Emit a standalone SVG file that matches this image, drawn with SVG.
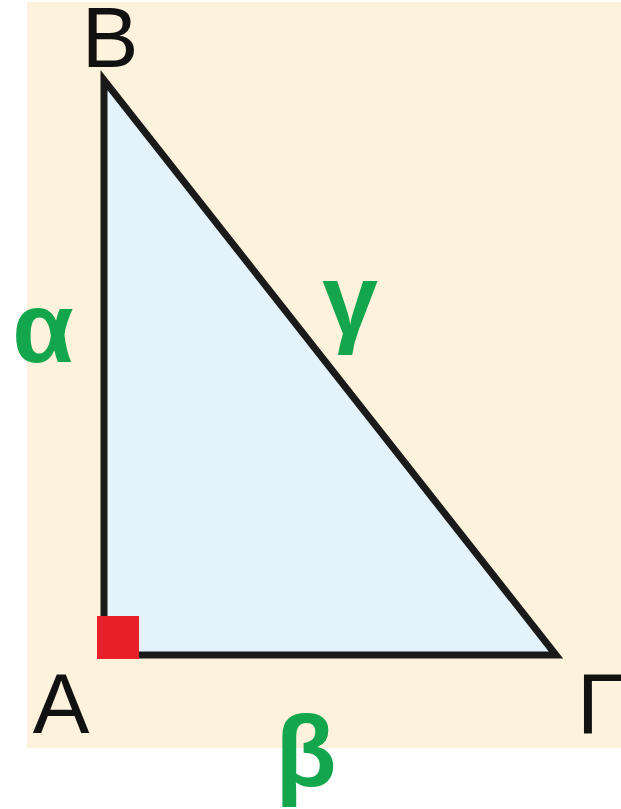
<svg xmlns="http://www.w3.org/2000/svg" width="621" height="809" viewBox="0 0 621 809">
<style>
.vx{font-family:"Liberation Sans",Arial,sans-serif;font-size:85px;fill:#111;}
.sd{font-family:"Liberation Sans",Arial,sans-serif;font-size:100px;font-weight:bold;fill:#14a64c;text-anchor:middle;}
</style>
<rect width="621" height="809" fill="#ffffff"/>
<rect x="27" y="2" width="594" height="746" fill="#fdf3dc"/>
<g id="triangle">
<polygon points="104,80 104,655 556,655" fill="#e4f3fb" stroke="#1a1a1a" stroke-width="7" stroke-linejoin="miter"/>
</g>
<g id="right-angle">
<rect x="97" y="616" width="42" height="43" fill="#e8202a"/>
</g>
<g id="vertex-B"><text class="vx" x="110" y="67" text-anchor="middle">B</text></g>
<g id="vertex-A"><text class="vx" x="61" y="733" text-anchor="middle">A</text></g>
<g id="vertex-G"><text class="vx" x="577" y="733">Γ</text></g>
<g id="side-a"><text class="sd" x="43" y="362">α</text></g>
<g id="side-c"><text class="sd" x="350" y="334">γ</text></g>
<g id="side-b"><text class="sd" x="306" y="786">β</text></g>
<g id="connectors"></g>
</svg>
